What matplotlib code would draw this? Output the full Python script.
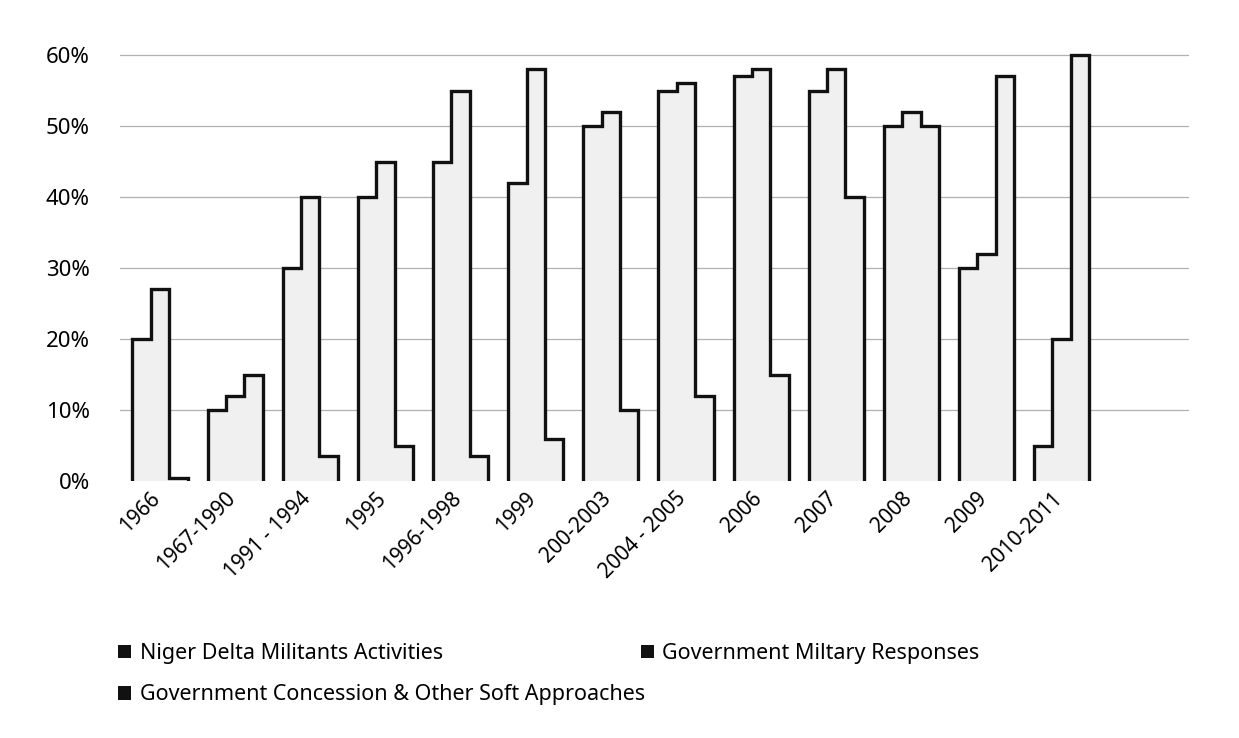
"""
Niger Delta militancy vs government responses, 1966-2011
stepped (3D-look) clustered columns in grayscale
"""
import matplotlib.pyplot as plt
import matplotlib.transforms as mtransforms
import numpy as np
from matplotlib.patches import Patch

plt.rcParams['font.family'] = ['Noto Sans', 'DejaVu Sans']

# categories on the x axis
periods = ["1966", "1967-1990", "1991 - 1994", "1995", "1996-1998", "1999",
           "200-2003", "2004 - 2005", "2006", "2007", "2008", "2009", "2010-2011"]

# values in percent
militants = [20, 10, 30, 40, 45, 42, 50, 55, 57, 55, 50, 30, 5]
military = [27, 12, 40, 45, 55, 58, 52, 56, 58, 58, 52, 32, 20]
soft = [0.4, 15, 3.5, 5, 3.5, 6, 10, 12, 15, 40, 50, 57, 60]

series_names = ["Niger Delta Militants Activities",
                "Government Miltary Responses",
                "Government Concession & Other Soft Approaches"]
y_ticks = [0, 10, 20, 30, 40, 50, 60]

fig = plt.figure(figsize=(12.39, 7.38), dpi=100)
ax = fig.add_axes([0.097, 0.348, 0.863, 0.587])

x = np.arange(len(periods))
w = 0.245
vals = np.array([militants, military, soft])

# light grid on the back wall
for t in y_ticks[1:]:
    ax.axhline(t, color='#b0b0b0', lw=0.9, zorder=0)

# fill each column, then outline every group as one stepped silhouette
for k in range(3):
    ax.bar(x + (k - 1) * w, vals[k], width=w, color='#f0f0f0',
           edgecolor='none', zorder=2)
for i in range(len(periods)):
    edges = x[i] + np.array([-1.5, -0.5, 0.5, 1.5]) * w
    ax.stairs(vals[:, i], edges, baseline=0, fill=False,
              color='#111111', lw=2.4, zorder=3)

ax.set_xlim(-0.53, 13.7)
ax.set_ylim(0, 61)
ax.set_yticks(y_ticks)
ax.set_yticklabels([f"{t}%" for t in y_ticks], fontsize=16)
ax.set_xticks(x)
ax.set_xticklabels(periods, rotation=45, ha='right', rotation_mode='anchor',
                   fontsize=15)
ax.tick_params(axis='y', length=0, pad=22)
ax.tick_params(axis='x', length=0, pad=5)
shift = mtransforms.ScaledTranslation(-10 / 100, 0, fig.dpi_scale_trans)
for lab in ax.get_xticklabels():
    lab.set_transform(lab.get_transform() + shift)
for s in ax.spines.values():
    s.set_visible(False)

# legend: two columns, black squares (column-major order)
order = [0, 2, 1]
handles = [Patch(facecolor='#111111', edgecolor='none') for _ in order]
fig.legend(handles, [series_names[k] for k in order], loc='upper left', ncol=2,
           bbox_to_anchor=(0.08, 0.155), frameon=False, fontsize=15.5,
           handlelength=0.6, handleheight=0.6, handletextpad=0.4,
           columnspacing=-0.2, labelspacing=0.95)

plt.savefig("out.png", dpi=100)
